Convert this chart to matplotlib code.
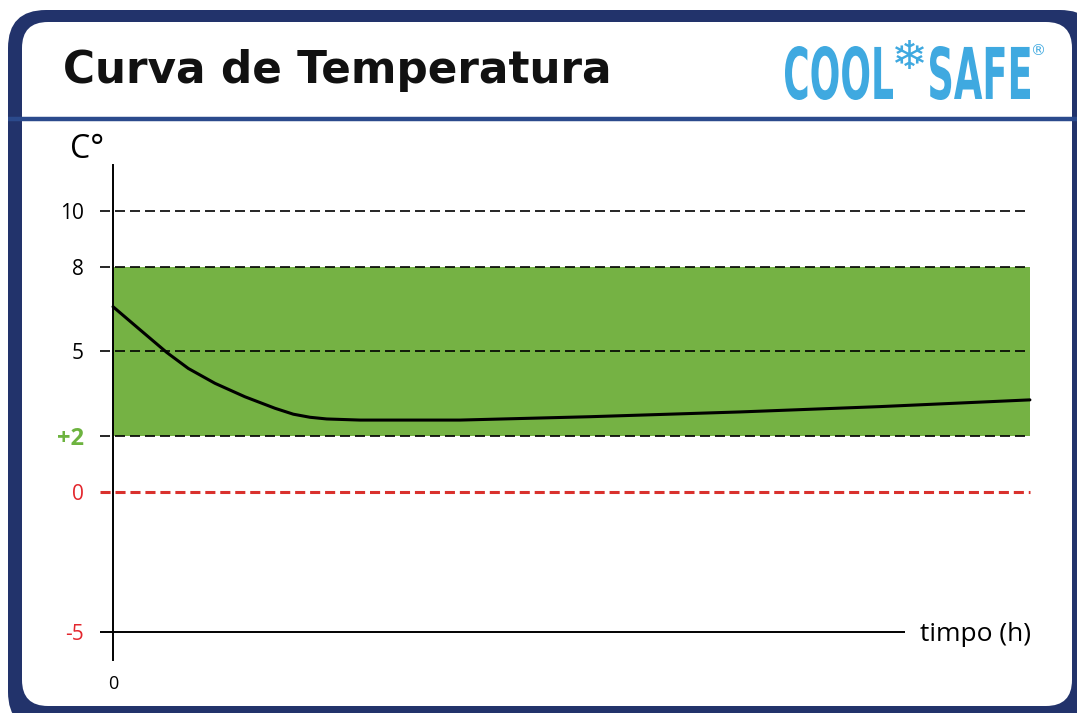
import matplotlib
matplotlib.use("Agg")
import matplotlib.pyplot as plt
from matplotlib.patches import FancyBboxPatch, PathPatch
from matplotlib.textpath import TextPath
from matplotlib.font_manager import FontProperties
from matplotlib.transforms import Affine2D

# data
hours = [0, 2.76, 5.86, 8.21, 11.12, 14.39, 17.67, 19.66, 21.48, 23.3, 26.94,
         37.84, 52.02, 68.38, 83.64, 100]
temps = [6.59, 5.82, 4.96, 4.39, 3.86, 3.38, 2.97, 2.76, 2.65, 2.59, 2.55,
         2.55, 2.67, 2.84, 3.03, 3.27]
grid_levels = [10, 8, 5, 2]
zero_level = 0
band_low, band_high = 2, 8
ytick_values = [-5, 0, 2, 5, 8, 10]
ytick_labels = ["-5", "0", "+2", "5", "8", "10"]
ytick_colors = ["#e3262d", "#e3262d", "#6db33f", "black", "black", "black"]

W, H = 1077, 713
NAVY = "#22336b"
GREEN = "#75b244"
RED = "#d9312d"
BLUE = "#3fa9e0"

fig = plt.figure(figsize=(W / 100, H / 100), dpi=100)
fig.patch.set_facecolor("white")

# background / decoration layer in pixel coordinates
bg = fig.add_axes([0, 0, 1, 1])
bg.set_xlim(0, W)
bg.set_ylim(H, 0)
bg.axis("off")

bg.add_patch(FancyBboxPatch((8, 10), 1090, 720, boxstyle="round,pad=0,rounding_size=38",
                            fc=NAVY, ec="none"))
bg.add_patch(FancyBboxPatch((22, 22), 1050, 684, boxstyle="round,pad=0,rounding_size=26",
                            fc="white", ec="none"))
bg.plot([8, W], [119, 119], color="#2b4a8c", lw=3.2, solid_capstyle="butt")

bg.text(63, 83, "Curva de Temperatura", fontsize=31.5, fontweight="bold",
        family="DejaVu Sans", va="baseline", ha="left", color="#111111")


def logo_piece(txt, box, weight="bold"):
    tp = TextPath((0, 0), txt, size=10, prop=FontProperties(family="DejaVu Sans", weight=weight))
    ext = tp.get_extents()
    x0, y0, x1, y1 = box
    tr = (Affine2D().translate(-ext.x0, -ext.y0)
          .scale((x1 - x0) / ext.width, -(y1 - y0) / ext.height)
          .translate(x0, y1))
    bg.add_patch(PathPatch(tr.transform_path(tp), fc=BLUE, ec="none"))


logo_piece("COOL", (785, 46, 893, 100))
logo_piece("\u2744", (895, 40, 924, 69), weight="normal")
logo_piece("SAFE", (930, 46, 1030, 100))
logo_piece("\u00ae", (1033, 44, 1044, 55), weight="normal")

bg.text(70, 158, "C°", fontsize=23, family="Open Sans", va="baseline", ha="left")

# chart axes, placed in pixels
left, right, top, bottom = 100, 1040, 165, 660
ax = fig.add_axes([left / W, 1 - bottom / H, (right - left) / W, (bottom - top) / H])
ax.set_facecolor("none")
ax.set_xlim(-1.42, 101.1)
ax.set_ylim(-6.0, 11.64)

ax.fill_between([0, 100], band_low, band_high, color=GREEN, lw=0, zorder=1)
for lvl in grid_levels:
    ax.hlines(lvl, -1.42, 100, color="black", lw=1.2, linestyles=(0, (6, 3)), zorder=2)
ax.hlines(zero_level, -1.42, 100, color=RED, lw=2.2, linestyles=(0, (3.3, 1.6)), zorder=2)
ax.hlines(-5, -1.42, 86.4, color="black", lw=1.4, zorder=3)
ax.plot(hours, temps, color="black", lw=2.2, zorder=4, solid_capstyle="round",
        solid_joinstyle="round")

for side in ["top", "right", "bottom"]:
    ax.spines[side].set_visible(False)
ax.spines["left"].set_position(("data", 0))
ax.spines["left"].set_linewidth(1.4)
ax.spines["left"].set_zorder(5)

ax.set_yticks(ytick_values, ytick_labels, family="Open Sans", fontsize=15)
for lab, c in zip(ax.get_yticklabels(), ytick_colors):
    lab.set_color(c)
    if lab.get_text() == "+2":
        lab.set_fontweight("bold")
        lab.set_fontsize(17)
ax.tick_params(axis="y", length=0, pad=21)

ax.set_xticks([0], ["0"], family="Open Sans", fontsize=13)
ax.tick_params(axis="x", length=0, pad=11)

ax.text(88.0, -5.1, "timpo (h)", fontsize=19, family="Open Sans", va="center", ha="left")

fig.savefig("out.png", dpi=100)
